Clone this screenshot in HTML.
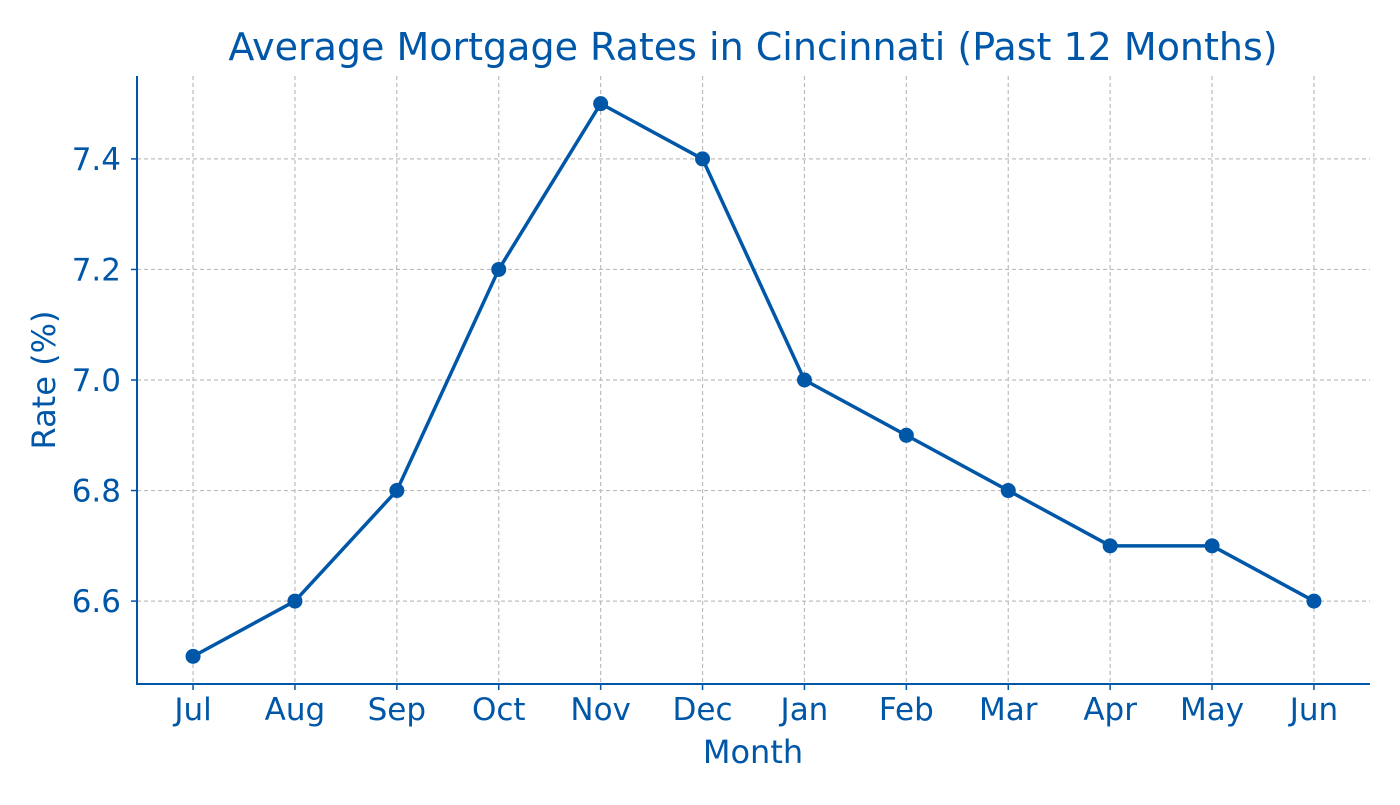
<!DOCTYPE html>
<html><head><meta charset="utf-8"><style>
body{margin:0;background:#fff;}
svg text{font-family:"DejaVu Sans","Liberation Sans",sans-serif;fill:#0057a8;}
</style></head><body>
<svg id="chart" width="1400" height="800" xmlns="http://www.w3.org/2000/svg">
<text x="753" y="60" style="font-size:38px" text-anchor="middle">Average Mortgage Rates in Cincinnati (Past 12 Months)</text>
<g id="grid"></g><g id="axes"></g><g id="series"></g>
<text x="753" y="763" style="font-size:32px" text-anchor="middle">Month</text>
<text transform="translate(55,380) rotate(-90)" style="font-size:32px" text-anchor="middle">Rate (%)</text>
</svg>
<script>
const months=["Jul","Aug","Sep","Oct","Nov","Dec","Jan","Feb","Mar","Apr","May","Jun"];
const rates=[6.5,6.6,6.8,7.2,7.5,7.4,7.0,6.9,6.8,6.7,6.7,6.6];
const yTicks=[6.6,6.8,7.0,7.2,7.4];
const yTickLabels=["6.6","6.8","7.0","7.2","7.4"];
const L=137,R=1370,T=76,B=684,yMin=6.45,yMax=7.55;
const C="#0057a8",NS="http://www.w3.org/2000/svg";
const n=months.length;
const x=i=>L+(i+0.55)*(R-L)/(n+0.1);
const y=v=>B-(v-yMin)/(yMax-yMin)*(B-T);
function mk(tag,attrs,parent){const e=document.createElementNS(NS,tag);for(const k in attrs)e.setAttribute(k,attrs[k]);document.getElementById(parent).appendChild(e);return e;}
months.forEach((m,i)=>{
  const g=mk("line",{x1:x(i),x2:x(i),y1:T,y2:B,stroke:"#bdbdbd","stroke-dasharray":"4,3","stroke-width":1.2},"grid");
  
  
  const t=mk("line",{x1:x(i),x2:x(i),y1:B,y2:B+6,stroke:C,"stroke-width":1.5},"axes");
  
  
  const l=mk("text",{x:x(i),y:B+36,style:"font-size:31px","text-anchor":"middle"},"axes");
  l.textContent=m;
  
  
});
yTicks.forEach((v,i)=>{
  const g=mk("line",{x1:L,x2:R,y1:y(v),y2:y(v),stroke:"#bdbdbd","stroke-dasharray":"4,3","stroke-width":1.2},"grid");
  
  
  const t=mk("line",{x1:L-6,x2:L,y1:y(v),y2:y(v),stroke:C,"stroke-width":1.5},"axes");
  
  
  const l=mk("text",{x:L-16,y:y(v)+11,style:"font-size:31px","text-anchor":"end"},"axes");
  l.textContent=yTickLabels[i];
  
  
});
const ax=mk("path",{d:`M${L},${T}V${B}H${R}`,fill:"none",stroke:C,"stroke-width":2},"axes");


const line=mk("polyline",{points:rates.map((v,i)=>x(i)+","+y(v)).join(" "),fill:"none",stroke:C,"stroke-width":3.5,"stroke-linejoin":"round"},"series");


rates.forEach((v,i)=>{
  const p=mk("circle",{cx:x(i),cy:y(v),r:7.5,fill:C},"series");
  
  
});
</script>
</body></html>
